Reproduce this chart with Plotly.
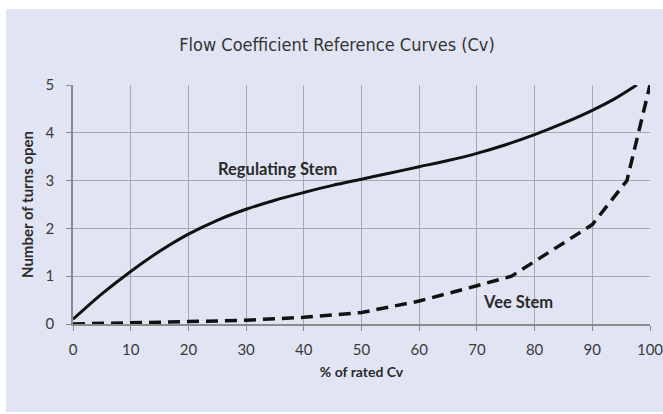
import plotly.graph_objects as go

# Regulating stem curve (% of rated Cv vs turns open)
reg_x = [0, 5, 10, 15, 20, 25, 30, 35, 40, 45, 50, 55, 60, 65, 70, 75, 80, 85, 90, 94, 97.7]
reg_y = [0.10, 0.63, 1.10, 1.52, 1.88, 2.17, 2.40, 2.59, 2.75, 2.90, 3.03, 3.16, 3.29, 3.42,
         3.57, 3.75, 3.96, 4.20, 4.47, 4.72, 5.00]

# Vee stem curve
vee_x = [0, 10, 20, 30, 40, 50, 60, 70, 76, 90, 96, 98, 100]
vee_y = [0.00, 0.02, 0.05, 0.08, 0.14, 0.24, 0.48, 0.80, 1.00, 2.08, 3.00, 4.00, 5.00]

x_ticks = [0, 10, 20, 30, 40, 50, 60, 70, 80, 90, 100]
y_ticks = [0, 1, 2, 3, 4, 5]

W, H = 663, 414
L, R, T, B = 73, 13, 85, 90
pw, ph = W - L - R, H - T - B

BG = "#E1E5F3"
GRID = "#A9A9AC"
AXIS = "#8C8C8C"
TXT = "#3A3A3A"
LABEL_FONT = "Lato, 'Open Sans', sans-serif"

fig = go.Figure()
fig.add_trace(go.Scatter(x=reg_x, y=reg_y, mode="lines", line=dict(color="#111111", width=3,
                         shape="spline", smoothing=0.8), hoverinfo="skip", showlegend=False))
fig.add_trace(go.Scatter(x=vee_x, y=vee_y, mode="lines", line=dict(color="#111111", width=3.5,
                         dash="12px,7px"), hoverinfo="skip", showlegend=False))

# lavender panel behind everything, leaving a thin white edge at the top, left and bottom
def px_x(p):
    return (p - L) / pw

def px_y(p):
    return (H - B - p) / ph

fig.add_shape(type="rect", xref="paper", yref="paper", layer="below",
              x0=px_x(6), x1=px_x(W + 2), y0=px_y(412), y1=px_y(9),
              fillcolor=BG, line=dict(width=0))

fig.add_annotation(x=35.5, y=3.25, text="<b>Regulating Stem</b>", showarrow=False,
                   font=dict(family=LABEL_FONT, size=16.5, color="#2a2a2a"))
fig.add_annotation(x=77.2, y=0.46, text="<b>Vee Stem</b>", showarrow=False,
                   font=dict(family=LABEL_FONT, size=16.5, color="#2a2a2a"))

fig.update_layout(
    width=W, height=H,
    margin=dict(l=L, r=R, t=T, b=B, autoexpand=False),
    paper_bgcolor="white", plot_bgcolor=BG,
    title=dict(text="Flow Coefficient Reference Curves (Cv)", x=337 / W, xanchor="center",
               y=1 - 45 / H, yanchor="middle",
               font=dict(family="'Liberation Sans Narrow', 'DejaVu Sans Condensed', sans-serif",
                         size=18, color="#333333")),
    xaxis=dict(range=[0, 100], tickvals=x_ticks, showgrid=True, gridcolor=GRID, gridwidth=1.2,
               showline=True, linecolor=AXIS, linewidth=1.5, ticks="outside", ticklen=5,
               tickcolor=AXIS, zeroline=False, ticklabelstandoff=6, automargin=False,
               ticklabeloverflow="allow",
               tickfont=dict(family=LABEL_FONT, size=15, color=TXT),
               title=dict(text="<b>% of rated Cv</b>", standoff=10,
                          font=dict(family=LABEL_FONT, size=14, color="#2a2a2a"))),
    yaxis=dict(range=[0, 5], tickvals=y_ticks, showgrid=True, gridcolor=GRID, gridwidth=1.2,
               showline=True, linecolor=AXIS, linewidth=1.5, ticks="outside", ticklen=5,
               tickcolor=AXIS, zeroline=False, ticklabelstandoff=9, automargin=False,
               tickfont=dict(family=LABEL_FONT, size=15, color=TXT),
               title=dict(text="<b>Number of turns open</b>", standoff=8,
                          font=dict(family=LABEL_FONT, size=15, color="#2a2a2a"))),
)

fig.write_html("out.html")
